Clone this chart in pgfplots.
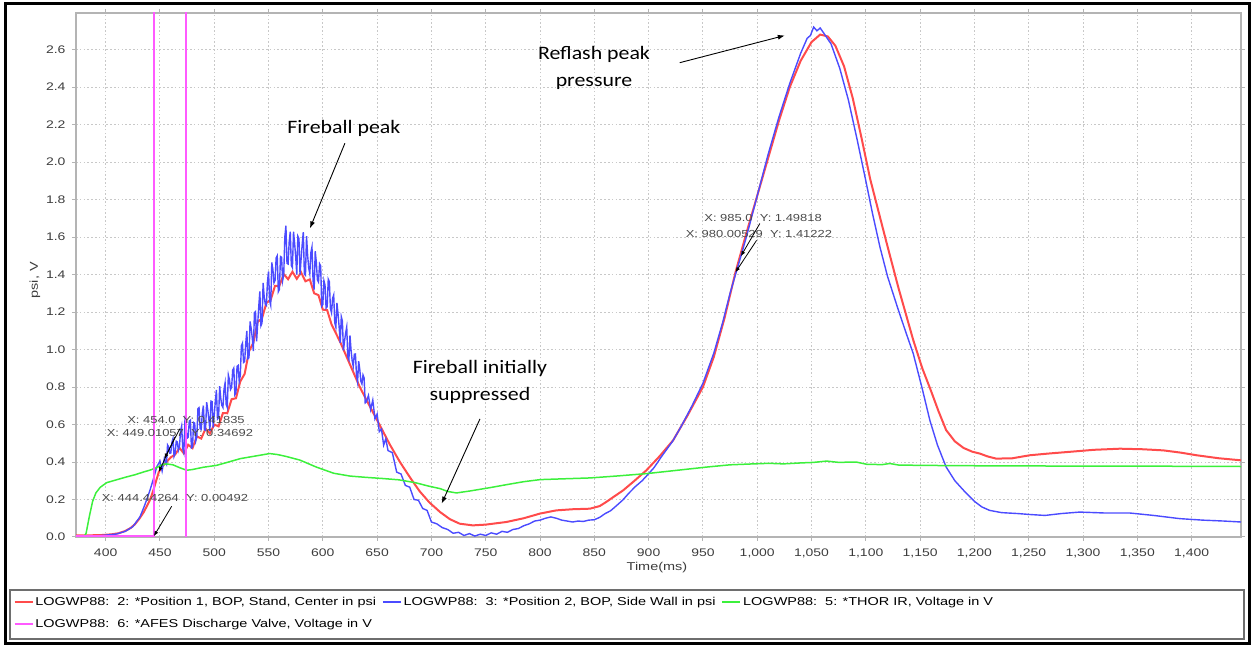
\documentclass[border=0pt]{standalone}
\usepackage{fontspec}
\setmainfont{Liberation Sans}[FakeStretch=1.27]
\newfontfamily\calibri{Carlito}[FakeStretch=1.15]
\usepackage{pgfplots}
\pgfplotsset{compat=1.18}
\usetikzlibrary{arrows.meta}

\definecolor{redline}{HTML}{FF4B4B}
\definecolor{blueline}{HTML}{4B4BFF}
\definecolor{greenline}{HTML}{3CF03C}
\definecolor{magline}{HTML}{FF5AFF}
\definecolor{gridgray}{HTML}{C8C8C8}
\definecolor{framegray}{HTML}{B4B4B4}
\definecolor{ticktext}{HTML}{3C3C3C}
\definecolor{tiptext}{HTML}{4A4A4A}
\definecolor{legendframe}{HTML}{6E6E6E}

\begin{document}
\begin{tikzpicture}[x=1pt,y=1pt]
\path[use as bounding box] (0,0) rectangle (1252,647);
\begin{axis}[
  at={(76pt,110pt)}, anchor=south west,
  scale only axis, width=1165pt, height=524pt,
  xmin=372.7, xmax=1445.5, ymin=0, ymax=2.795,
  xtick={400,450,500,550,600,650,700,750,800,850,900,950,1000,1050,1100,1150,1200,1250,1300,1350,1400},
  ytick={0,0.2,0.4,0.6,0.8,1.0,1.2,1.4,1.6,1.8,2.0,2.2,2.4,2.6},
  grid=major,
  major grid style={gridgray, line width=0.9pt, dash pattern=on 1.6pt off 2.2pt},
  axis line style={framegray, line width=1.6pt},
  tick align=outside, major tick length=4pt,
  tick style={framegray, line width=1pt},
  /pgf/number format/assume math mode=true,
  xticklabel style={font=\fontsize{11}{12}\selectfont, text=ticktext, yshift=-4pt,
    /pgf/number format/.cd, fixed, precision=0, 1000 sep={,}},
  yticklabel style={font=\fontsize{11}{12}\selectfont, text=ticktext, xshift=-3pt,
    /pgf/number format/.cd, fixed, fixed zerofill, precision=1},
  xlabel={Time(ms)}, ylabel={psi, V},
  label style={font=\fontsize{11.4}{13}\selectfont, text=ticktext},
  xlabel style={at={(axis description cs:0.4987,-0.0592)}, anchor=center},
  ylabel style={at={(axis description cs:-0.0352,0.49)}, anchor=center},
  legend columns=3,
  legend cell align=left,
  legend style={at={(axis description cs:-0.0536,-0.1105)}, anchor=north west,
    draw=none, fill=none, inner sep=0pt, font=\fontsize{11.4}{13}\selectfont,
    row sep=8pt, /tikz/every even column/.append style={column sep=4pt}},
  legend image code/.code={\draw[#1, line width=1.6pt] (0pt,0pt) -- (18pt,0pt);},
]
% Position 1 (red)
\addplot[redline, line width=2pt] coordinates {
(372.7,0.008) (385,0.009) (395,0.01) (405,0.014) (412,0.02) (418,0.032) (423,0.048)
(427,0.068) (431,0.097) (435,0.132) (438,0.165) (441,0.2) (444,0.25) (446.5,0.3)
(449.01057,0.34692) (452,0.375) (456,0.40) (460,0.425) (464,0.44)
(468,0.475) (472,0.446) (476,0.492) (480,0.474) (484,0.537) (488,0.525) (492,0.578)
(496,0.552) (500,0.60) (504,0.59) (508,0.661) (512,0.66) (516,0.735) (520,0.74)
(524,0.83) (528,0.87) (532,0.99) (536,1.036) (540,1.147) (544,1.166) (548,1.248)
(552,1.265) (556,1.34) (560,1.34) (564,1.402) (568,1.375) (572,1.415) (576,1.377)
(580,1.411) (584,1.364) (588,1.374) (592,1.30) (596,1.29) (600,1.2125) (604,1.21)
(608,1.134) (616,1.04) (625,0.92) (634,0.80) (643,0.70) (653,0.59) (662,0.49)
(671,0.40) (680,0.32) (689,0.245) (698,0.185) (708,0.133) (717,0.095) (726,0.071)
(738,0.062) (750,0.066) (769,0.08) (785,0.10) (800,0.125) (815,0.142) (830,0.148)
(846,0.151) (855,0.165) (861,0.187) (868,0.215) (876.6,0.249) (887,0.30) (898,0.356)
(910,0.43) (922.6,0.516) (936,0.65) (950,0.80) (960,0.96) (970,1.17) (980.00529,1.41222)
(990,1.62) (1000,1.82) (1010,2.02) (1020,2.22) (1030,2.40) (1040,2.54) (1050,2.64)
(1058,2.68) (1065,2.67) (1072,2.62) (1080,2.51) (1088,2.34) (1096,2.13) (1104,1.91)
(1113,1.707) (1120,1.55) (1130,1.33) (1143.7,1.05) (1152,0.90) (1160,0.78) (1167,0.67)
(1174,0.57) (1182,0.51) (1190,0.475) (1198,0.455) (1205,0.445) (1212,0.43) (1220,0.418)
(1235,0.42) (1251,0.436) (1268,0.445) (1285,0.453) (1310,0.465) (1334,0.471) (1355,0.468)
(1374,0.462) (1390,0.45) (1404.6,0.436) (1425,0.42) (1445.5,0.409)
};
\addlegendentry{LOGWP88:\ \ 2: *Position 1, BOP, Stand, Center in psi}
% Position 2 (blue), sampled every millisecond through the noisy fireball
\addplot[blueline, line width=1.4pt] coordinates {
(372.7,0.003) (390,0.005) (400,0.01) (410,0.016) (418,0.03) (425,0.055) (431.6,0.107)
(436,0.17) (440.8,0.249) (444,0.31) (447,0.373) (450,0.405) (452,0.352) (454,0.41835)
(456,0.39) (457,0.491) (458,0.481) (459,0.447) (460,0.448) (461,0.504) (462,0.524)
(463,0.43) (464,0.446) (465,0.511) (466,0.507) (467,0.463) (468,0.484) (469,0.565)
(470,0.592) (471,0.471) (472,0.449) (473,0.616) (474,0.585) (475,0.527) (476,0.532)
(477,0.618) (478,0.623) (479,0.475) (480,0.48) (481,0.611) (482,0.607) (483,0.513)
(484,0.536) (485,0.685) (486,0.69) (487,0.578) (488,0.574) (489,0.66) (490,0.701)
(491,0.572) (492,0.569) (493,0.719) (494,0.68) (495,0.632) (496,0.566) (497,0.725)
(498,0.722) (499,0.584) (500,0.653) (501,0.723) (502,0.784) (503,0.629) (504,0.636)
(505,0.805) (506,0.74) (507,0.702) (508,0.691) (509,0.788) (510,0.822) (511,0.707)
(512,0.691) (513,0.864) (514,0.839) (515,0.787) (516,0.798) (517,0.89) (518,0.901)
(519,0.759) (520,0.77) (521,0.91) (522,0.915) (523,0.83) (524,0.862) (525,1.02)
(526,1.034) (527,0.931) (528,0.936) (529,1.031) (530,1.099) (531,0.951) (532,0.957)
(533,1.15) (534,1.112) (535,1.063) (536,0.992) (537,1.196) (538,1.202) (539,1.043)
(540,1.137) (541,1.229) (542,1.31) (543,1.127) (544,1.142) (545,1.355) (546,1.282)
(547,1.242) (548,1.235) (549,1.36) (550,1.416) (551,1.26) (552,1.236) (553,1.464)
(554,1.428) (555,1.356) (556,1.368) (557,1.488) (558,1.50) (559,1.308) (560,1.32)
(561,1.496) (562,1.492) (563,1.368) (564,1.40) (565,1.60) (566,1.66) (567,1.46)
(568,1.456) (569,1.572) (570,1.628) (571,1.448) (572,1.436) (573,1.628) (574,1.568)
(575,1.496) (576,1.40) (577,1.604) (578,1.592) (579,1.40) (580,1.484) (581,1.561)
(582,1.626) (583,1.403) (584,1.396) (585,1.605) (586,1.502) (587,1.435) (588,1.404)
(589,1.517) (590,1.546) (591,1.367) (592,1.32) (593,1.525) (594,1.466) (595,1.371)
(596,1.36) (597,1.457) (598,1.446) (599,1.231) (600,1.24) (601,1.367) (602,1.344)
(603,1.221) (604,1.228) (605,1.375) (606,1.362) (607,1.219) (608,1.196) (609,1.273)
(610,1.291) (611,1.142) (612,1.119) (613,1.249) (614,1.19) (615,1.122) (616,1.036)
(617,1.175) (618,1.152) (619,0.994) (620,1.046) (621,1.087) (622,1.12) (623,0.961)
(624,0.946) (625,1.075) (626,0.996) (627,0.941) (628,0.91) (629,0.975) (630,0.976)
(631,0.863) (632,0.827) (633,0.938) (634,0.895) (635,0.831) (636,0.816) (637,0.864)
(638,0.849) (639,0.715) (640,0.72) (642,0.755) (644,0.68) (646,0.73) (648,0.63)
(650,0.656) (652,0.562) (654,0.576) (656,0.49) (658,0.524) (660,0.461) (664,0.45)
(668,0.346) (672,0.336) (676,0.275) (680,0.266) (684,0.20) (688,0.196) (692,0.152)
(696,0.142) (700,0.08) (705,0.07) (710,0.05) (715,0.04) (720,0.02) (725,0.025)
(730,0.008) (735,0.018) (740,0.005) (745,0.015) (750,0.008) (755,0.022) (760,0.015)
(765,0.03) (770,0.025) (775,0.04) (780,0.045) (785,0.06) (790,0.07) (795,0.085)
(800,0.09) (805,0.1) (810,0.107) (815,0.1) (820,0.09) (825,0.085) (830,0.08)
(835,0.085) (840,0.083) (845,0.09) (850,0.092) (855,0.105) (860,0.125) (865,0.14)
(870,0.165) (876,0.196) (882,0.235) (888,0.27) (894,0.30) (898,0.325) (905,0.37)
(912,0.43) (922,0.51) (930,0.59) (940,0.70) (950,0.82) (960,0.98) (968,1.14)
(975,1.30) (980,1.40) (985,1.49818) (990,1.60) (1000,1.82) (1010,2.04) (1020,2.24)
(1030,2.42) (1040,2.58) (1046,2.66) (1049,2.675) (1052,2.72) (1055,2.70) (1058,2.715)
(1061,2.69) (1068,2.63) (1076,2.50) (1084,2.33) (1092,2.12) (1100,1.90) (1106,1.73)
(1113,1.547) (1120,1.39) (1130,1.21) (1137,1.09) (1143.7,0.978) (1152,0.79) (1159,0.622)
(1166,0.49) (1174,0.373) (1182,0.30) (1190,0.249) (1200,0.19) (1207,0.16) (1214,0.142)
(1225,0.13) (1240,0.125) (1251,0.12) (1265,0.115) (1280,0.125) (1297,0.133) (1320,0.128)
(1343,0.128) (1365,0.115) (1389,0.098) (1410,0.09) (1430,0.085) (1445.5,0.08)
};
\addlegendentry{LOGWP88:\ \ 3: *Position 2, BOP, Side Wall in psi}
% THOR IR (green)
\addplot[greenline, line width=1.5pt] coordinates {
(372.7,0.0) (380,0.0) (382,0.02) (385,0.11) (388,0.19) (391,0.235) (395,0.265)
(401,0.29) (410,0.305) (419,0.32) (427,0.332) (435,0.347) (441,0.357) (447,0.37)
(452,0.385) (456,0.39) (462,0.385) (468,0.37) (474.6,0.356) (480,0.36) (490,0.372)
(502,0.382) (512,0.398) (524,0.418) (538,0.432) (551,0.445) (558,0.44) (566,0.43)
(579,0.41) (594,0.373) (610,0.34) (625,0.325) (640,0.318) (655,0.312) (670,0.305)
(685,0.29) (697,0.272) (708,0.258) (715,0.243) (723,0.235) (735,0.245) (753.7,0.263)
(770,0.28) (785,0.295) (800,0.306) (820,0.31) (846,0.315) (870,0.325) (898,0.338)
(925,0.355) (953.4,0.373) (975,0.385) (996.4,0.39) (1011,0.393) (1024,0.39) (1040,0.395)
(1052,0.398) (1064,0.405) (1075,0.398) (1091,0.40) (1100.7,0.388) (1115,0.386)
(1122,0.392) (1130,0.384) (1150,0.382) (1200,0.38) (1250,0.379) (1300,0.378)
(1350,0.378) (1400,0.377) (1445.5,0.376)
};
\addlegendentry{LOGWP88:\ \ 5: *THOR IR, Voltage in V}
% AFES discharge valve (magenta)
\addplot[magline, line width=1.5pt] coordinates {
(372.7,0.00492) (444.44264,0.00492) (444.44264,4) (474,4) (474,-0.5) (1445.5,-0.5)
};
\addlegendentry{LOGWP88:\ \ 6: *AFES Discharge Valve, Voltage in V}

% data tips
\begin{scope}[every node/.style={font=\fontsize{10.2}{12}\selectfont, text=tiptext, inner sep=0pt}]
\node at (axis cs:474.0,0.622) {X: 454.0\ \ Y: 0.41835};
\node at (axis cs:468.4,0.557) {X: 449.01057\ \ Y: 0.34692};
\node at (axis cs:463.8,0.208) {X: 444.44264\ \ Y: 0.00492};
\node at (axis cs:1005.4,1.703) {X: 985.0\ \ Y: 1.49818};
\node at (axis cs:1001.6,1.618) {X: 980.00529\ \ Y: 1.41222};
\end{scope}
\begin{scope}[black, line width=0.8pt, -{Latex[length=5pt,width=4pt]}]
\draw (axis cs:468.4,0.578) -- (axis cs:454.0,0.41835);
\draw (axis cs:463.8,0.533) -- (axis cs:449.01057,0.34692);
\draw (axis cs:460.8,0.164) -- (axis cs:444.44264,0.00492);
\draw (axis cs:1002.4,1.672) -- (axis cs:985.0,1.49818);
\draw (axis cs:999.4,1.582) -- (axis cs:980.00529,1.41222);
\end{scope}

% callouts
\begin{scope}[every node/.style={font=\calibri\fontsize{19}{27}\selectfont, align=center, inner sep=0pt}]
\node at (axis cs:619.4,2.18) {Fireball peak};
\node at (axis cs:849.7,2.50) {Reflash peak\\pressure};
\node at (axis cs:744.7,0.825) {Fireball initially\\suppressed};
\end{scope}
\begin{scope}[black, line width=0.9pt, -{Latex[length=7pt,width=5pt]}]
\draw (axis cs:620.3,2.10) -- (axis cs:588.1,1.646);
\draw (axis cs:928.7,2.53) -- (axis cs:1025.4,2.675);
\draw (axis cs:744.7,0.63) -- (axis cs:709.4,0.178);
\end{scope}
\end{axis}
% legend box and outer frame
\draw[legendframe, line width=1.3pt] (10,8) rectangle (1244,57);
\draw[black, line width=3pt] (5.5,3.5) rectangle (1249.5,643.5);
\end{tikzpicture}
\end{document}
